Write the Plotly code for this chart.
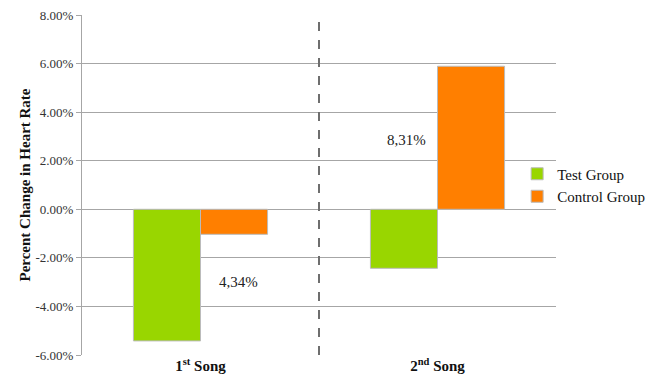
import plotly.graph_objects as go

categories = ["1st Song", "2nd Song"]
tick_labels = ["<b>1<sup>st</sup> Song</b>", "<b>2<sup>nd</sup> Song</b>"]
test_group = [-5.42, -2.43]
control_group = [-1.03, 5.89]
y_ticks = [-6, -4, -2, 0, 2, 4, 6, 8]
y_tick_labels = ["-6.00%", "-4.00%", "-2.00%", "0.00%", "2.00%", "4.00%", "6.00%", "8.00%"]
annot_texts = ["4,34%", "8,31%"]

font_family = "Times New Roman"

fig = go.Figure()
fig.add_trace(go.Bar(x=categories, y=test_group, name="Test Group",
                     marker=dict(color="#99D600", line=dict(color="#BBBBBB", width=1))))
fig.add_trace(go.Bar(x=categories, y=control_group, name="Control Group",
                     marker=dict(color="#FF7F00", line=dict(color="#BBBBBB", width=1))))

fig.update_layout(
    width=654, height=376,
    margin=dict(l=82, r=98, t=15, b=21, autoexpand=False),
    paper_bgcolor="white", plot_bgcolor="white",
    barmode="group", bargap=0.434, bargroupgap=0,
    font=dict(family=font_family, color="#222222"),
    legend=dict(x=0.918, y=0.5, xanchor="left", yanchor="middle",
                bgcolor="rgba(0,0,0,0)", font=dict(size=15, family=font_family, color="#111111"),
                itemwidth=30, tracegroupgap=0),
    showlegend=True,
)
fig.update_xaxes(tickmode="array", tickvals=categories, ticktext=tick_labels,
                 tickfont=dict(size=15, family=font_family, color="#111111"),
                 showline=False, showgrid=False, ticks="", automargin=False)
fig.update_yaxes(range=[-6, 8], tickmode="array", tickvals=y_ticks, ticktext=y_tick_labels,
                 tickfont=dict(size=13, family=font_family, color="#333333"),
                 showgrid=True, gridcolor="#A6A6A6", gridwidth=1,
                 showline=True, linecolor="#A6A6A6", linewidth=1,
                 ticks="outside", ticklen=5, tickcolor="#A6A6A6",
                 zeroline=False, automargin=False,
                 title=dict(text="<b>Percent Change in Heart Rate</b>",
                            font=dict(size=15, family=font_family, color="#111111"),
                            standoff=1))

fig.add_shape(type="line", xref="paper", yref="paper", x0=0.5, x1=0.5, y0=0, y1=1,
              line=dict(color="#6E6E6E", width=2, dash="dash"))

fig.add_annotation(text=annot_texts[0], xref="paper", yref="y", x=(238 - 82) / 474, y=-3.0,
                   xanchor="center", yanchor="middle",
                   showarrow=False, font=dict(size=15, family=font_family, color="#222222"))
fig.add_annotation(text=annot_texts[1], xref="paper", yref="y", x=(406 - 82) / 474, y=2.86,
                   xanchor="center", yanchor="middle",
                   showarrow=False, font=dict(size=15, family=font_family, color="#222222"))

fig.write_html("out.html")
